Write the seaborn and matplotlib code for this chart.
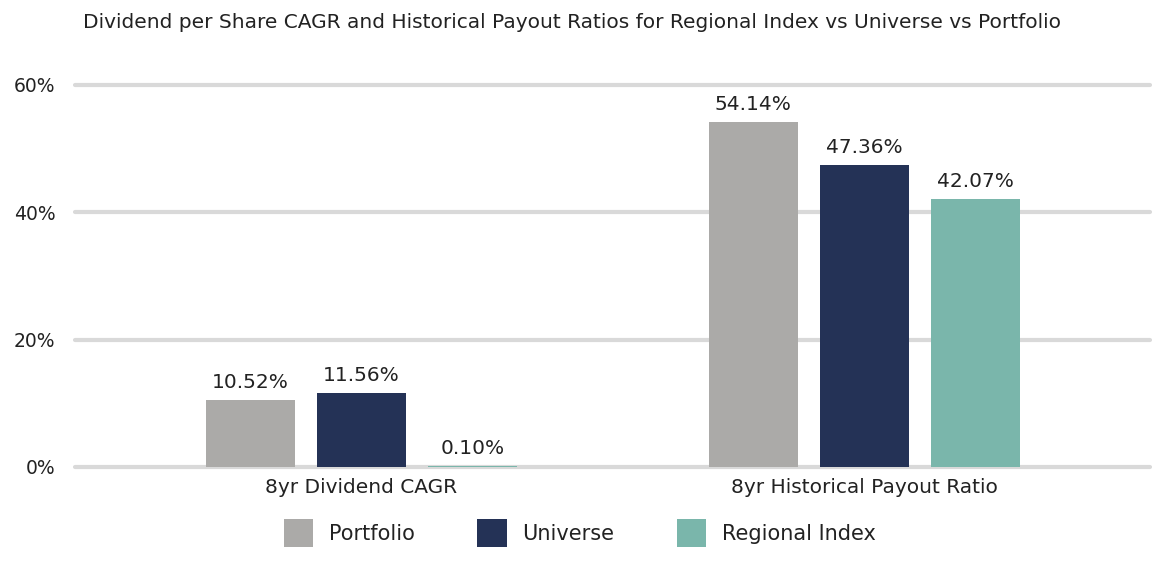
import pandas as pd
import matplotlib.pyplot as plt
import seaborn as sns
from matplotlib.patches import Patch

# ---------------- DATA ----------------
categories = ["8yr Dividend CAGR", "8yr Historical Payout Ratio"]
series = ["Portfolio", "Universe", "Regional Index"]
portfolio = [10.52, 54.14]
universe = [11.56, 47.36]
regional = [0.10, 42.07]
y_ticks = [0, 20, 40, 60]

colors = ["#ABAAA8", "#243256", "#7AB6AB"]
text_color = "#222222"
grid_color = "#D9D9D9"

rows = []
for name, vals in zip(series, [portfolio, universe, regional]):
    for cat, v in zip(categories, vals):
        rows.append({"category": cat, "series": name, "value": v})
df = pd.DataFrame(rows)

# ---------------- PLOT ----------------
sns.set_style("white")
plt.rcParams["font.family"] = ["DejaVu Sans"]

fig = plt.figure(figsize=(11.61, 5.62), dpi=100)
ax = fig.add_axes([75 / 1161, 1 - 467 / 562, 1075 / 1161, (467 - 85) / 562])

sns.barplot(data=df, x="category", y="value", hue="series", order=categories,
            hue_order=series, palette=colors, width=0.663, gap=0.2,
            saturation=1, ax=ax, legend=False, edgecolor="none", linewidth=0)

for cont in ax.containers:
    ax.bar_label(cont, fmt="%.2f%%", padding=6, fontsize=14.5, color=text_color)

ax.set_xlim(-0.569, 1.568)
ax.set_ylim(0, 60)
ax.set_yticks(y_ticks)
ax.set_yticklabels([f"{t}%" for t in y_ticks])
ax.yaxis.grid(True, color=grid_color, linewidth=3)
ax.set_axisbelow(True)
for gl in ax.get_ygridlines():
    gl.set_clip_on(False)
sns.despine(ax=ax, left=True, top=True, right=True, bottom=True)
ax.tick_params(axis="y", length=0, pad=14, labelsize=13.5, labelcolor=text_color)
ax.tick_params(axis="x", length=0, pad=8, labelsize=14.5, labelcolor=text_color)
ax.set_xlabel("")
ax.set_ylabel("")

fig.text(83 / 1161, 1 - 22 / 562, "Dividend per Share CAGR and Historical Payout Ratios for Regional Index vs Universe vs Portfolio",
         fontsize=14.5, color=text_color, va="center", ha="left")

handles = [Patch(facecolor=c, edgecolor="none", label=s) for s, c in zip(series, colors)]
fig.legend(handles=handles, loc="center", bbox_to_anchor=(580 / 1161, 1 - 533 / 562),
           ncol=3, frameon=False, fontsize=15, handlelength=1.4, handleheight=1.65,
           handletextpad=0.77, columnspacing=3.0, labelcolor=text_color)

fig.savefig("out.png", dpi=100)
